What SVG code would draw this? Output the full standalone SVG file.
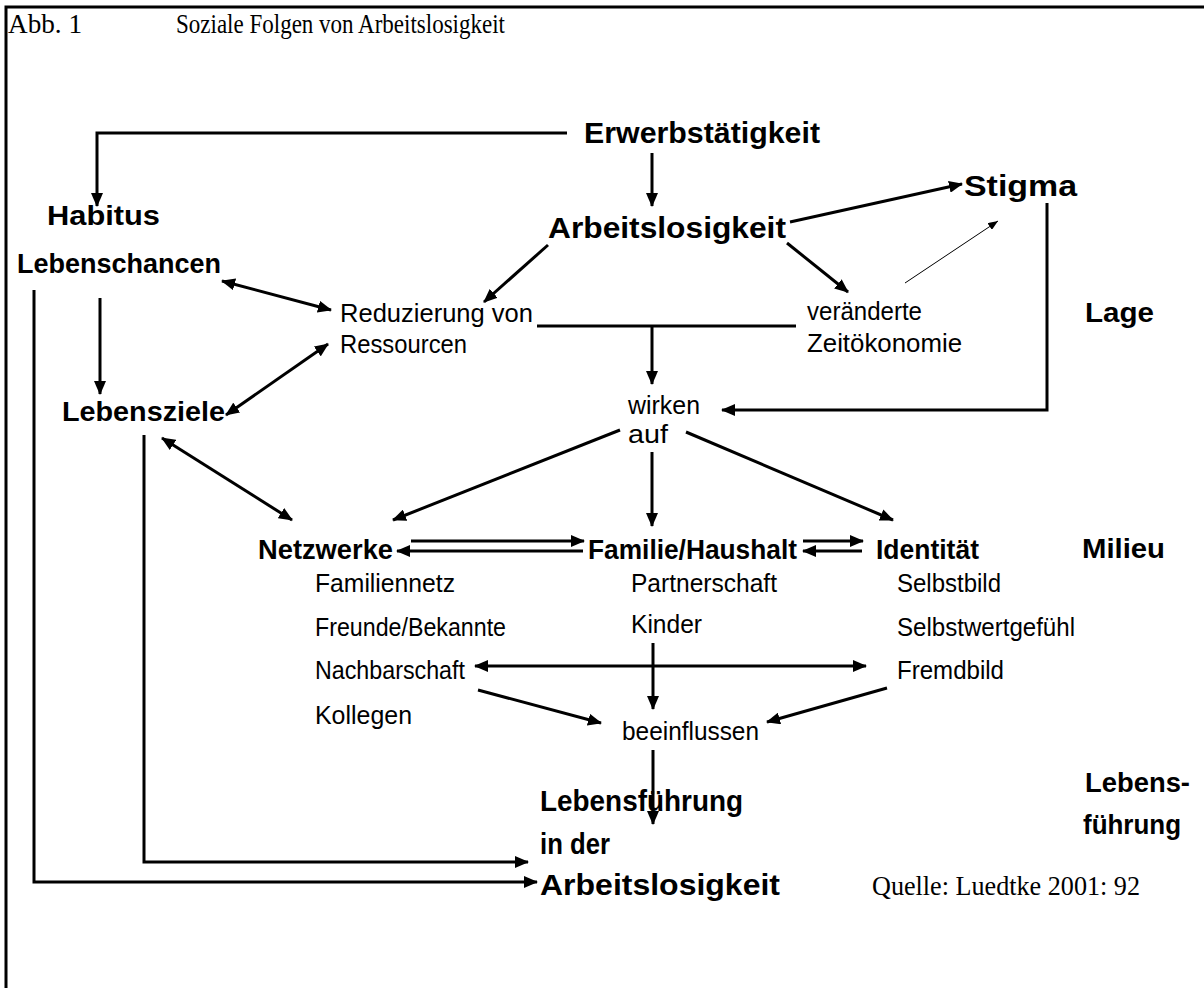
<svg xmlns="http://www.w3.org/2000/svg" width="1204" height="988" viewBox="0 0 1204 988">
<style>
.t{font-family:"Liberation Serif","Times New Roman",serif;font-size:28px;fill:#000}
.b{font-family:"Liberation Sans",Arial,sans-serif;font-weight:bold;font-size:30px;fill:#000}
.m{font-family:"Liberation Sans",Arial,sans-serif;font-weight:bold;font-size:28px;fill:#000}
.n{font-family:"Liberation Sans",Arial,sans-serif;font-weight:bold;font-size:27px;fill:#000}
.r{font-family:"Liberation Sans",Arial,sans-serif;font-size:26px;fill:#000}
.c{fill:none;stroke:#000;stroke-width:3}
.thin{fill:none;stroke:#000;stroke-width:1}
</style>
<defs>
<marker id="a" markerUnits="userSpaceOnUse" markerWidth="14" markerHeight="12" refX="13" refY="6" orient="auto-start-reverse" viewBox="0 0 14 12">
<path d="M0,0 L14,6 L0,12 z" fill="#000"/>
</marker>
<marker id="s" markerUnits="userSpaceOnUse" markerWidth="10" markerHeight="8" refX="10" refY="4" orient="auto" viewBox="0 0 10 8">
<path d="M0,0 L10,4 L0,8 z" fill="#000"/>
</marker>
</defs>
<rect width="1204" height="988" fill="#fff"/>
<g id="frame">
<path class="c" d="M6,988 V7 H1204"/>
</g>
<g id="title">
<text class="t" x="8" y="33" textLength="74" lengthAdjust="spacingAndGlyphs">Abb. 1</text>
<text class="t" x="176" y="33" textLength="329" lengthAdjust="spacingAndGlyphs">Soziale Folgen von Arbeitslosigkeit</text>
</g>
<g id="connectors">
<path class="c" d="M567,133 H97 V206" marker-end="url(#a)"/>
<path class="c" d="M652,153 V206" marker-end="url(#a)"/>
<path class="c" d="M790,222 L962,184" marker-end="url(#a)"/>
<path class="thin" d="M905,283 L998,221" marker-end="url(#s)"/>
<path class="c" d="M548,245 L484,302" marker-end="url(#a)"/>
<path class="c" d="M787,243 L848,292" marker-end="url(#a)"/>
<path class="c" d="M222,281 L331,310" marker-start="url(#a)" marker-end="url(#a)"/>
<path class="c" d="M226,415 L328,344" marker-start="url(#a)" marker-end="url(#a)"/>
<path class="c" d="M537,326 H796"/>
<path class="c" d="M652,326 V384" marker-end="url(#a)"/>
<path class="c" d="M100,298 V394" marker-end="url(#a)"/>
<path class="c" d="M34,290 V882 H537" marker-end="url(#a)"/>
<path class="c" d="M144,435 V862 H528" marker-end="url(#a)"/>
<path class="c" d="M1047,203 V410 H722" marker-end="url(#a)"/>
<path class="c" d="M620,430 L393,520" marker-end="url(#a)"/>
<path class="c" d="M652,452 V526" marker-end="url(#a)"/>
<path class="c" d="M686,432 L893,520" marker-end="url(#a)"/>
<path class="c" d="M162,438 L292,520" marker-start="url(#a)" marker-end="url(#a)"/>
<path class="c" d="M411,541 H584" marker-end="url(#a)"/>
<path class="c" d="M583,551 H397" marker-end="url(#a)"/>
<path class="c" d="M803,541 H863" marker-end="url(#a)"/>
<path class="c" d="M862,551 H803" marker-end="url(#a)"/>
<path class="c" d="M475,666 H866" marker-start="url(#a)" marker-end="url(#a)"/>
<path class="c" d="M653,643 V709" marker-end="url(#a)"/>
<path class="c" d="M478,690 L601,723" marker-end="url(#a)"/>
<path class="c" d="M887,688 L767,722" marker-end="url(#a)"/>
<path class="c" d="M653,750 V824" marker-end="url(#a)"/>
</g>
<g id="n-erwerb"><text class="b" x="584" y="143" textLength="236" lengthAdjust="spacingAndGlyphs">Erwerbstätigkeit</text></g>
<g id="n-arbeitslos"><text class="b" x="548" y="238" textLength="238" lengthAdjust="spacingAndGlyphs">Arbeitslosigkeit</text></g>
<g id="n-stigma"><text class="b" x="964" y="196" textLength="113" lengthAdjust="spacingAndGlyphs">Stigma</text></g>
<g id="n-habitus"><text class="m" x="47" y="225" textLength="113" lengthAdjust="spacingAndGlyphs">Habitus</text></g>
<g id="n-lebenschancen"><text class="m" x="17" y="273" textLength="204" lengthAdjust="spacingAndGlyphs">Lebenschancen</text></g>
<g id="n-lebensziele"><text class="m" x="62" y="421" textLength="163" lengthAdjust="spacingAndGlyphs">Lebensziele</text></g>
<g id="n-reduzierung">
<text class="r" x="340" y="322" textLength="193" lengthAdjust="spacingAndGlyphs">Reduzierung von</text>
<text class="r" x="340" y="353" textLength="127" lengthAdjust="spacingAndGlyphs">Ressourcen</text>
</g>
<g id="n-zeit">
<text class="r" x="807" y="320" textLength="115" lengthAdjust="spacingAndGlyphs">veränderte</text>
<text class="r" x="807" y="352" textLength="155" lengthAdjust="spacingAndGlyphs">Zeitökonomie</text>
</g>
<g id="n-wirken">
<text class="r" x="628" y="414" font-size="25" textLength="72" lengthAdjust="spacingAndGlyphs">wirken</text>
<text class="r" x="628" y="443" font-size="25" textLength="40" lengthAdjust="spacingAndGlyphs">auf</text>
</g>
<g id="n-netzwerke">
<text class="n" x="258" y="559" textLength="135" lengthAdjust="spacingAndGlyphs">Netzwerke</text>
<text class="r" x="315" y="592" textLength="140" lengthAdjust="spacingAndGlyphs">Familiennetz</text>
<text class="r" x="315" y="636" textLength="191" lengthAdjust="spacingAndGlyphs">Freunde/Bekannte</text>
<text class="r" x="315" y="679" textLength="150" lengthAdjust="spacingAndGlyphs">Nachbarschaft</text>
<text class="r" x="315" y="724" textLength="97" lengthAdjust="spacingAndGlyphs">Kollegen</text>
</g>
<g id="n-familie">
<text class="n" x="588" y="559" textLength="209" lengthAdjust="spacingAndGlyphs">Familie/Haushalt</text>
<text class="r" x="631" y="592" textLength="146" lengthAdjust="spacingAndGlyphs">Partnerschaft</text>
<text class="r" x="631" y="633" textLength="71" lengthAdjust="spacingAndGlyphs">Kinder</text>
</g>
<g id="n-identitaet">
<text class="n" x="876" y="559" textLength="103" lengthAdjust="spacingAndGlyphs">Identität</text>
<text class="r" x="897" y="592" textLength="104" lengthAdjust="spacingAndGlyphs">Selbstbild</text>
<text class="r" x="897" y="636" textLength="178" lengthAdjust="spacingAndGlyphs">Selbstwertgefühl</text>
<text class="r" x="897" y="679" textLength="107" lengthAdjust="spacingAndGlyphs">Fremdbild</text>
</g>
<g id="n-beeinflussen"><text class="r" x="622" y="740" textLength="137" lengthAdjust="spacingAndGlyphs">beeinflussen</text></g>
<g id="n-lebensfuehrung">
<text class="b" x="540" y="811" textLength="203" lengthAdjust="spacingAndGlyphs">Lebensführung</text>
<text class="b" x="540" y="854" textLength="70" lengthAdjust="spacingAndGlyphs">in der</text>
<text class="b" x="540" y="895" textLength="240" lengthAdjust="spacingAndGlyphs">Arbeitslosigkeit</text>
</g>
<g id="levels">
<text class="m" x="1085" y="322" textLength="69" lengthAdjust="spacingAndGlyphs">Lage</text>
<text class="m" x="1082" y="558" textLength="83" lengthAdjust="spacingAndGlyphs">Milieu</text>
<text class="m" x="1085" y="792" textLength="105" lengthAdjust="spacingAndGlyphs">Lebens-</text>
<text class="m" x="1083" y="834" textLength="98" lengthAdjust="spacingAndGlyphs">führung</text>
</g>
<g id="source"><text class="t" x="872" y="895" font-size="25" textLength="268" lengthAdjust="spacingAndGlyphs">Quelle: Luedtke 2001: 92</text></g>
</svg>
